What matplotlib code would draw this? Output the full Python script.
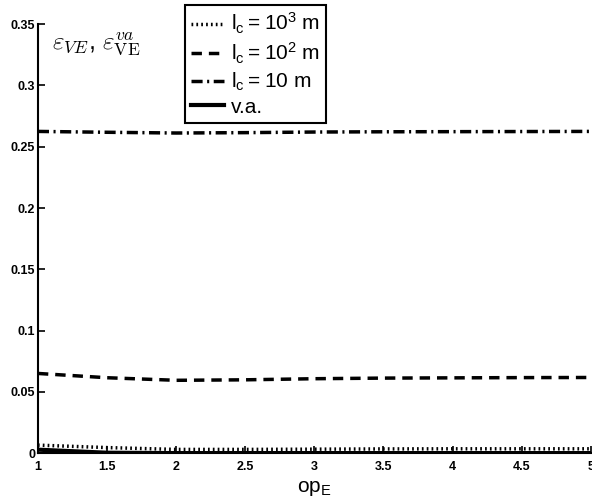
import matplotlib.pyplot as plt

plt.rcParams['font.family'] = ['Liberation Sans', 'DejaVu Sans']

# 读出的数据
op_E = [1, 1.5, 2, 2.5, 3, 3.5, 4, 4.5, 5]
eps_lc1000 = [0.0065, 0.0045, 0.003, 0.003, 0.0032, 0.0034, 0.0035, 0.0035, 0.0035]
eps_lc100 = [0.065, 0.0615, 0.0594, 0.0598, 0.0607, 0.0612, 0.0614, 0.0616, 0.0617]
eps_lc10 = [0.2625, 0.2618, 0.2612, 0.2615, 0.262, 0.2622, 0.2623, 0.2624, 0.2625]
eps_va = [0.0028, 0.0003, 0.0, 0.0, 0.0, 0.0, 0.0, 0.0, 0.0]

labels = [r'$\mathregular{l_c = 10^3}$ m', r'$\mathregular{l_c = 10^2}$ m',
          r'$\mathregular{l_c = 10}$ m', 'v.a.']
yticks = [0, 0.05, 0.1, 0.15, 0.2, 0.25, 0.3, 0.35]
ytick_labels = ['0', '0.05', '0.1', '0.15', '0.2', '0.25', '0.3', '0.35']
xticks = [1, 1.5, 2, 2.5, 3, 3.5, 4, 4.5, 5]
xtick_labels = ['1', '1.5', '2', '2.5', '3', '3.5', '4', '4.5', '5']

fig = plt.figure(figsize=(5.92, 5.04), dpi=100)
ax = fig.add_axes([0.064, 0.101, 0.934, 0.851])

ax.plot(op_E, eps_lc1000, color='black', lw=2.5, linestyle=(0, (0.5, 0.9)), label=labels[0])
ax.plot(op_E, eps_lc100, color='black', lw=2.5, linestyle=(0, (3, 2)), label=labels[1])
ax.plot(op_E, eps_lc10, color='black', lw=2.5, linestyle=(0, (3.2, 1.3, 0.6, 1.3)), label=labels[2])
ax.plot(op_E, eps_va, color='black', lw=3, label=labels[3])

ax.set_xlim(1, 5)
ax.set_ylim(0, 0.35)
ax.set_xticks(xticks, xtick_labels)
ax.set_yticks(yticks, ytick_labels)
ax.tick_params(direction='in', length=5, width=1.2, labelsize=9, pad=2)
ax.tick_params(axis='x', pad=6)
for lbl in ax.get_xticklabels() + ax.get_yticklabels():
    lbl.set_fontweight('bold')
ax.spines['top'].set_visible(False)
ax.spines['right'].set_visible(False)
ax.spines['left'].set_linewidth(1.5)
ax.spines['bottom'].set_linewidth(1.5)

ax.set_xlabel(r'op$_\mathregular{E}$', fontsize=15, labelpad=4)
ax.text(0.025, 0.985, r'$\varepsilon_{VE}$, $\varepsilon^{va}_{\mathrm{VE}}$',
        transform=ax.transAxes, fontsize=18, va='top', ha='left', math_fontfamily='cm')

leg = fig.legend(loc='upper left', bbox_to_anchor=(0.312, 0.99), fontsize=15,
                 handlelength=1.6, handletextpad=0.3, labelspacing=0.22,
                 borderpad=0.3, borderaxespad=0, fancybox=False, framealpha=1,
                 edgecolor='black')
leg.get_frame().set_linewidth(1.5)

fig.savefig('out.png', dpi=100)
